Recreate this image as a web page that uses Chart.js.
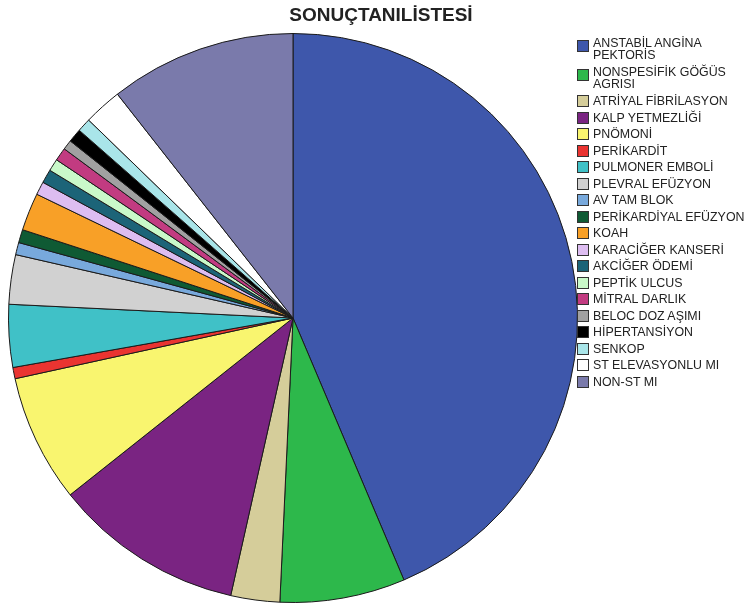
<!DOCTYPE html>
<html>
<head>
<meta charset="utf-8">
<script src="https://cdn.jsdelivr.net/npm/chart.js@4"></script>
<style>
  html, body { margin: 0; padding: 0; background: #fff; }
  #wrap { position: relative; width: 748px; height: 606px; overflow: hidden; }
  #chart { position: absolute; left: 0; top: 0; }
  #title { position: absolute; left: 261px; width: 240px; top: 4px; text-align: center;
           font: bold 19px "Liberation Sans", Arial, sans-serif; color: #222; }
  #legend { position: absolute; left: 577px; top: 37px; font: 12.4px "Liberation Sans", Arial, sans-serif; color: #222; white-space: nowrap; }
  .item { position: relative; padding-left: 16px; line-height: 12px; margin-bottom: 4.5px; }
  .item.two { margin-bottom: 5px; }
  .box { position: absolute; left: 0; top: 0; width: 10px; height: 10px; border: 1px solid #333; }
</style>
</head>
<body>
<div id="wrap">
  <canvas id="chart" width="748" height="606"></canvas>
  <div id="title">SONUÇTANILİSTESİ</div>
  <div id="legend"></div>
</div>
<script>
// Kategoriler (legend sırası = dilim sırası)
var categories = [
  ["ANSTABİL ANGİNA", "PEKTORİS"],
  ["NONSPESİFİK GÖĞÜS", "AGRISI"],
  "ATRİYAL FİBRİLASYON",
  "KALP YETMEZLİĞİ",
  "PNÖMONİ",
  "PERİKARDİT",
  "PULMONER EMBOLİ",
  "PLEVRAL EFÜZYON",
  "AV TAM BLOK",
  "PERİKARDİYAL EFÜZYON",
  "KOAH",
  "KARACİĞER KANSERİ",
  "AKCİĞER ÖDEMİ",
  "PEPTİK ULCUS",
  "MİTRAL DARLIK",
  "BELOC DOZ AŞIMI",
  "HİPERTANSİYON",
  "SENKOP",
  "ST ELEVASYONLU MI",
  "NON-ST MI"
];

// Dilim büyüklükleri (resimden okunan açılar, derece)
var values = [157.0, 25.6, 10.0, 38.9, 26.1, 2.3, 12.8, 10.1, 2.5, 2.7,
              7.7, 2.7, 2.8, 2.5, 2.7, 2.0, 2.8, 2.8, 7.8, 38.1];

var colors = [
  "#3e57ab", "#2db84b", "#d5cd9a", "#7a2482", "#f9f56f",
  "#ea3431", "#40c1c7", "#d1d1d1", "#78a9dc", "#0f5a34",
  "#f8a027", "#ddbdf1", "#1c6478", "#c9f9c9", "#c23b81",
  "#a1a1a1", "#000000", "#a9e5e9", "#ffffff", "#7a7aab"
];

// legend
var legend = document.getElementById("legend");
categories.forEach(function (c, i) {
  var d = document.createElement("div");
  d.className = Array.isArray(c) ? "item two" : "item";
  var b = document.createElement("span");
  b.className = "box";
  b.style.background = colors[i];
  b.style.top = Array.isArray(c) ? "3px" : "0px";
  d.appendChild(b);
  var t = document.createElement("span");
  t.innerHTML = Array.isArray(c) ? c.join("<br>") : c;
  d.appendChild(t);
  legend.appendChild(d);
});

var ctx = document.getElementById("chart").getContext("2d");
var chart = new Chart(ctx, {
  type: "pie",
  data: {
    labels: categories.map(function (c) { return Array.isArray(c) ? c.join(" ") : c; }),
    datasets: [{
      data: values,
      backgroundColor: colors,
      borderColor: "#1a1a1a",
      borderWidth: 1
    }]
  },
  options: {
    responsive: false,
    animation: false,
    layout: { padding: { left: 8, right: 170, top: 33, bottom: 3 } },
    plugins: {
      legend: { display: false },
      title: { display: false },
      tooltip: { enabled: false }
    }
  }
});
</script>
</body>
</html>
